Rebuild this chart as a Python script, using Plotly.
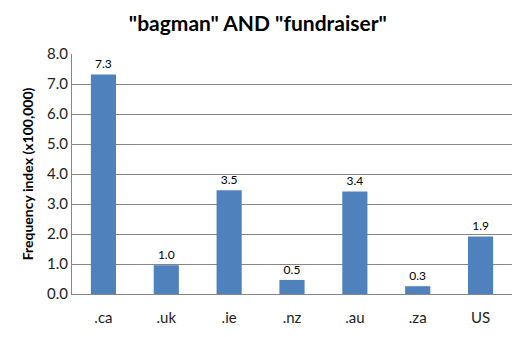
import plotly.graph_objects as go

categories = [".ca", ".uk", ".ie", ".nz", ".au", ".za", "US"]
values = [7.32, 0.96, 3.46, 0.47, 3.42, 0.26, 1.92]
y_ticks = [0, 1, 2, 3, 4, 5, 6, 7, 8]
y_tick_labels = ["0.0", "1.0", "2.0", "3.0", "4.0", "5.0", "6.0", "7.0", "8.0"]

fig = go.Figure(go.Bar(
    x=categories, y=values,
    marker=dict(color="#4F81BD", line=dict(width=0)),
    texttemplate="%{y:.1f}", textposition="outside",
    textfont=dict(family="Lato", size=12, color="#000000"),
    cliponaxis=False,
))

fig.update_layout(
    width=523, height=337,
    margin=dict(l=72, r=11, t=54, b=39),
    paper_bgcolor="white", plot_bgcolor="white",
    bargap=0.6,
    showlegend=False,
    title=dict(text='"bagman" AND "fundraiser"', x=0.493, xanchor="center",
               y=0.93, yanchor="middle",
               font=dict(family="Lato", size=21, color="#000000", weight="bold")),
    font=dict(family="Lato", color="#000000"),
)
fig.update_yaxes(
    range=[0, 8], tickvals=y_ticks, ticktext=y_tick_labels,
    showgrid=True, gridcolor="#868686", gridwidth=1,
    showline=True, linecolor="#868686", linewidth=1,
    ticks="outside", ticklen=0, tickfont=dict(size=15, color="#222222"),
    title=dict(text="Frequency index (x100,000)", standoff=10,
               font=dict(size=14, color="#000000", weight="bold")),
    zeroline=False,
)
fig.update_xaxes(
    showline=True, linecolor="#868686", linewidth=1,
    ticks="", tickfont=dict(size=15, color="#222222"),
    ticklabelstandoff=10,
)

fig.write_html("out.html")
